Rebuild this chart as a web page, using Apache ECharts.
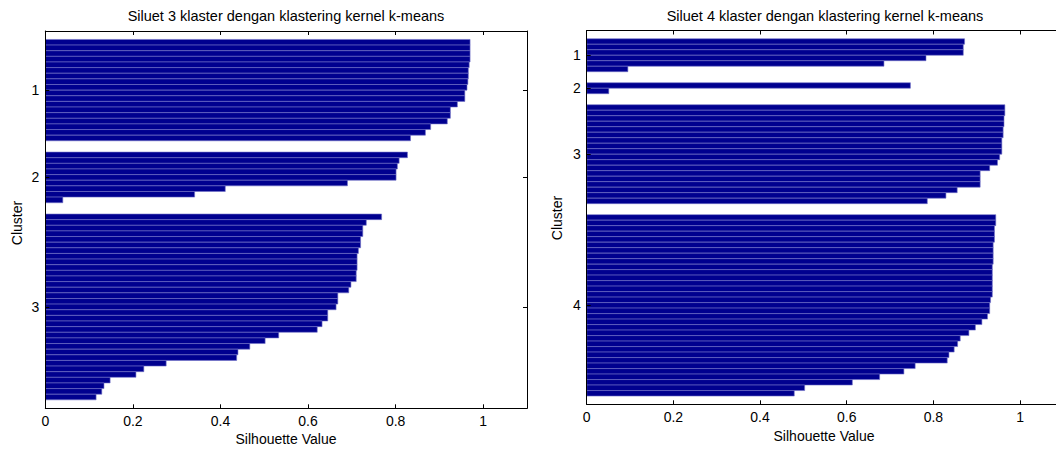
<!DOCTYPE html>
<html><head><meta charset="utf-8">
<script src="https://cdn.jsdelivr.net/npm/echarts@6/dist/echarts.min.js"></script>
<style>html,body{margin:0;padding:0;background:#fff}#c{width:1056px;height:450px}</style>
</head><body><div id="c"></div>
<script>
// ---- data ----
const titleLeft = 'Siluet 3 klaster dengan klastering kernel k-means';
const titleRight = 'Siluet 4 klaster dengan klastering kernel k-means';
const xAxisName = 'Silhouette Value';
const yAxisName = 'Cluster';
const xTickValues = [0, 0.2, 0.4, 0.6, 0.8, 1];
const clusterNamesLeft = ['1', '2', '3'];
const clusterNamesRight = ['1', '2', '3', '4'];

const left1 = [0.970, 0.970, 0.970, 0.970, 0.968, 0.966, 0.966, 0.965, 0.963, 0.958, 0.958, 0.941, 0.925, 0.925, 0.918, 0.880, 0.868, 0.834];
const left2 = [0.827, 0.808, 0.804, 0.801, 0.801, 0.690, 0.411, 0.341, 0.040];
const left3 = [0.768, 0.733, 0.725, 0.725, 0.720, 0.720, 0.715, 0.712, 0.712, 0.712, 0.710, 0.710, 0.698, 0.693, 0.668, 0.668, 0.664, 0.645, 0.645, 0.632, 0.621, 0.533, 0.502, 0.467, 0.440, 0.437, 0.276, 0.225, 0.207, 0.148, 0.134, 0.129, 0.116];

const right1 = [0.872, 0.869, 0.869, 0.783, 0.686, 0.095];
const right2 = [0.747, 0.051];
const right3 = [0.965, 0.965, 0.963, 0.963, 0.961, 0.961, 0.958, 0.958, 0.958, 0.953, 0.948, 0.930, 0.908, 0.908, 0.908, 0.855, 0.829, 0.786];
const right4 = [0.944, 0.944, 0.941, 0.941, 0.941, 0.938, 0.938, 0.938, 0.938, 0.936, 0.936, 0.936, 0.936, 0.936, 0.936, 0.932, 0.930, 0.930, 0.925, 0.912, 0.897, 0.882, 0.862, 0.856, 0.848, 0.836, 0.832, 0.758, 0.732, 0.676, 0.613, 0.503, 0.479];

// ---- layout (MATLAB silhouette style: spacer rows between clusters) ----
const SPACE = 2;
function layoutRows(clusters) {
  let r = SPACE; const pts = []; const centers = [];
  clusters.forEach(function (vals) {
    const start = r + 1;
    vals.forEach(function (v) { r++; pts.push([v, r]); });
    centers.push((start + r) / 2);
    r += SPACE;
  });
  return { pts: pts, centers: centers, maxRow: r };
}
const L = layoutRows([left1, left2, left3]);
const R = layoutRows([right1, right2, right3, right4]);

const FONT = '"Liberation Sans", Arial, Helvetica, sans-serif';
const FS = 14;
const FS_TITLE = 14.5;
const BAR_FILL = '#00008F';
const BAR_EDGE = '#7272c8';

function renderBar(params, api) {
  const v = api.value(0), row = api.value(1);
  const p0 = api.coord([0, row - 0.5]);
  const p1 = api.coord([v, row + 0.5]);
  return {
    type: 'rect',
    shape: { x: p0[0], y: Math.min(p0[1], p1[1]), width: p1[0] - p0[0], height: Math.abs(p1[1] - p0[1]) },
    style: { fill: BAR_FILL, stroke: BAR_EDGE, lineWidth: 0.6 }
  };
}

// right panel is cut by the picture edge: its visible x range ends before 1.1
const grids = [
  { left: 45.3, top: 31, width: 481.7, height: 377.3 },
  { left: 586.7, top: 30.5, right: 0, height: 373.8 }
];
const xMaxes = [1.1, 1.083];

function xAxes(gi) {
  const base = {
    gridIndex: gi, type: 'value', min: 0, max: xMaxes[gi], z: 5,
    axisLine: { show: true, onZero: false, lineStyle: { color: '#000', width: 1 } },
    splitLine: { show: false }
  };
  return [
    Object.assign({}, base, {
      position: 'bottom',
      axisTick: { show: true, inside: true, length: 4, customValues: xTickValues, lineStyle: { color: '#000' } },
      axisLabel: { show: true, customValues: xTickValues, margin: 6, fontSize: FS, fontFamily: FONT, color: '#000',
        formatter: function (v) { return String(+v.toFixed(1)); } }
    }),
    Object.assign({}, base, {
      position: 'top',
      axisTick: { show: true, inside: true, length: 4, customValues: xTickValues, lineStyle: { color: '#000' } },
      axisLabel: { show: false }
    })
  ];
}
function yAxes(gi, lay, names, withRight) {
  const base = {
    gridIndex: gi, type: 'value', min: 1, max: lay.maxRow, inverse: true, z: 5,
    axisLine: { show: true, onZero: false, lineStyle: { color: '#000', width: 1 } },
    splitLine: { show: false }
  };
  const axes = [
    Object.assign({}, base, {
      position: 'left',
      axisTick: { show: true, inside: true, length: 4, customValues: lay.centers, lineStyle: { color: '#000' } },
      axisLabel: { show: true, customValues: lay.centers, margin: 6, fontSize: FS, fontFamily: FONT, color: '#000',
        formatter: function (v) { return names[lay.centers.indexOf(v)] || ''; } }
    })
  ];
  if (withRight) {
    axes.push(Object.assign({}, base, {
      position: 'right',
      axisTick: { show: true, inside: true, length: 4, customValues: lay.centers, lineStyle: { color: '#000' } },
      axisLabel: { show: false }
    }));
  }
  return axes;
}

function txt(text, x, y, rot, fs) {
  return {
    type: 'text', x: x, y: y, rotation: rot || 0, z: 10,
    style: { text: text, x: 0, y: 0, align: 'center', verticalAlign: 'middle', textAlign: 'center', textVerticalAlign: 'middle',
      fontSize: fs || FS, fontFamily: FONT, fill: '#000' }
  };
}

const chart = echarts.init(document.getElementById('c'), null, { renderer: 'svg' });
chart.setOption({
  animation: false,
  backgroundColor: '#fff',
  grid: grids,
  xAxis: xAxes(0).concat(xAxes(1)),
  yAxis: yAxes(0, L, clusterNamesLeft, true).concat(yAxes(1, R, clusterNamesRight, false)),
  series: [
    { type: 'custom', xAxisIndex: 0, yAxisIndex: 0, data: L.pts, renderItem: renderBar, encode: { x: 0, y: 1 }, clip: true },
    { type: 'custom', xAxisIndex: 2, yAxisIndex: 2, data: R.pts, renderItem: renderBar, encode: { x: 0, y: 1 }, clip: true }
  ],
  graphic: [
    txt(titleLeft, 286, 15.5, 0, FS_TITLE),
    txt(titleRight, 825, 15.5, 0, FS_TITLE),
    txt(xAxisName, 286, 439),
    txt(xAxisName, 824, 436),
    txt(yAxisName, 17, 223, Math.PI / 2),
    txt(yAxisName, 557, 218, Math.PI / 2)
  ]
});
</script>
</body></html>
